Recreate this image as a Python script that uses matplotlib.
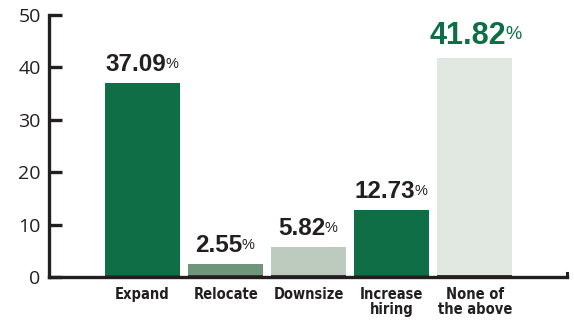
import matplotlib.pyplot as plt

categories = ['Expand', 'Relocate', 'Downsize', 'Increase\nhiring', 'None of\nthe above']
values = [37.09, 2.55, 5.82, 12.73, 41.82]
bar_colors = ['#0f6e45', '#6f967a', '#bccbbd', '#0f6e45', '#e0e8e1']
label_colors = ['#231f20', '#231f20', '#231f20', '#231f20', '#0f6e45']
label_sizes = [17.5, 17.5, 17.5, 17.5, 22]
yticks = [0, 10, 20, 30, 40, 50]

dark = '#231f20'

W, H = 574, 322
fig = plt.figure(figsize=(W / 100, H / 100), dpi=100)
ax = fig.add_axes([49 / W, (H - 277) / H, (567 - 49) / W, (277 - 15) / H])

x = range(len(values))
ax.bar(x, values, width=0.904, color=bar_colors, zorder=2)
# thin dark strip along the base of each bar
ax.bar(x, [0.35] * len(values), width=0.904, color='#3a3a36', zorder=3)

ax.set_xlim(-1.127, 5.11)
ax.set_ylim(0, 50)

for s in ['top', 'right']:
    ax.spines[s].set_visible(False)
for s in ['left', 'bottom']:
    ax.spines[s].set_color(dark)
    ax.spines[s].set_linewidth(2.4)
    ax.spines[s].set_zorder(4)
ax.plot([1, 1], [0, 0.015], transform=ax.transAxes, color=dark, lw=2.2,
        clip_on=False, zorder=5)

ax.set_yticks(yticks)
ax.set_yticklabels([str(t) for t in yticks], fontsize=14, family='Open Sans', color=dark)
ax.tick_params(axis='y', direction='in', length=9, width=2.4, color=dark, pad=6)
ax.set_xticks(list(x))
ax.set_xticklabels(categories, fontsize=10.5, family='DejaVu Sans', fontstretch='condensed',
                   fontweight='bold', color=dark, linespacing=1.0)
ax.tick_params(axis='x', length=0, pad=7)

# value labels with a small raised percent sign
fig.canvas.draw()
renderer = fig.canvas.get_renderer()
for i, (v, c, fs) in enumerate(zip(values, label_colors, label_sizes)):
    num = ax.annotate(f'{v:.2f}', (i, v), xytext=(-5, 5), textcoords='offset points',
                      ha='center', va='bottom', fontsize=fs, fontweight='bold',
                      family='Liberation Sans', color=c, zorder=6)
    bb = num.get_window_extent(renderer)
    pct_x = bb.x1 - ax.transData.transform((i, v))[0]
    ax.annotate('%', (i, v), xytext=(pct_x * 0.72 - 0.3, 5 + bb.height * 0.72 * 0.82),
                textcoords='offset points', ha='left', va='top', fontsize=fs * 0.6,
                family='Liberation Sans', color=c, zorder=6)

fig.savefig('out.png', dpi=100)
